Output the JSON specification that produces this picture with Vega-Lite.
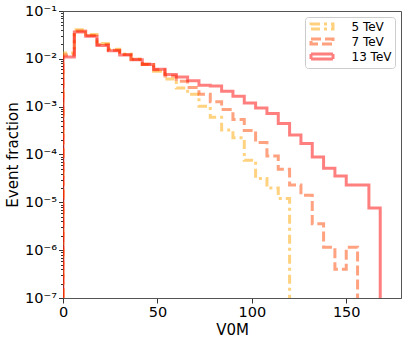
{
  "$schema": "https://vega.github.io/schema/vega-lite/v6.json",
  "width": 338,
  "height": 287,
  "autosize": {"type": "none"},
  "padding": {"left": 63, "top": 11, "right": 6, "bottom": 44},
  "background": "white",
  "config": {
    "font": "DejaVu Sans",
    "view": {"stroke": "#555", "strokeWidth": 1},
    "axis": {"grid": false, "labelFont": "DejaVu Sans", "titleFont": "DejaVu Sans", "labelFontSize": 14.5, "titleFontSize": 15, "titleFontWeight": "normal", "labelColor": "#000", "titleColor": "#000", "tickColor": "#333", "domainColor": "#555", "labelFlush": false, "labelOverlap": false},
    "legend": {
      "orient": "top-right", "offset": 6, "padding": 3, "strokeColor": "#ccc", "cornerRadius": 3, "fillColor": "white",
      "symbolType": "M-2.2,-0.5H2.2V0.5H-2.2Z", "symbolSize": 100, "symbolOffset": 7.5, "symbolStrokeWidth": 3, "symbolFillColor": "transparent", "symbolOpacity": 0.5,
      "labelFont": "DejaVu Sans", "labelFontSize": 12, "labelColor": "#000", "labelOffset": 23, "rowPadding": -3
    }
  },
  "data": {
    "values": [
      {"E": "5 TeV", "i": 0, "x": 0, "frac": 1e-7},
      {"E": "5 TeV", "i": 1, "x": 0, "frac": 0.01318},
      {"E": "5 TeV", "i": 2, "x": 6, "frac": 0.04074},
      {"E": "5 TeV", "i": 3, "x": 12, "frac": 0.03236},
      {"E": "5 TeV", "i": 4, "x": 18, "frac": 0.02089},
      {"E": "5 TeV", "i": 5, "x": 24, "frac": 0.01585},
      {"E": "5 TeV", "i": 6, "x": 30, "frac": 0.01259},
      {"E": "5 TeV", "i": 7, "x": 36, "frac": 0.00977},
      {"E": "5 TeV", "i": 8, "x": 42, "frac": 0.00759},
      {"E": "5 TeV", "i": 9, "x": 48, "frac": 0.0055},
      {"E": "5 TeV", "i": 10, "x": 54, "frac": 0.0038},
      {"E": "5 TeV", "i": 11, "x": 60, "frac": 0.00245},
      {"E": "5 TeV", "i": 12, "x": 66, "frac": 0.00182},
      {"E": "5 TeV", "i": 13, "x": 72, "frac": 0.00102},
      {"E": "5 TeV", "i": 14, "x": 78, "frac": 0.000603},
      {"E": "5 TeV", "i": 15, "x": 84, "frac": 0.000324},
      {"E": "5 TeV", "i": 16, "x": 90, "frac": 0.000224},
      {"E": "5 TeV", "i": 17, "x": 96, "frac": 0.0000759},
      {"E": "5 TeV", "i": 18, "x": 102, "frac": 0.0000316},
      {"E": "5 TeV", "i": 19, "x": 108, "frac": 0.00002},
      {"E": "5 TeV", "i": 20, "x": 114, "frac": 0.000012},
      {"E": "5 TeV", "i": 21, "x": 120, "frac": 0.000012},
      {"E": "5 TeV", "i": 22, "x": 120, "frac": 1e-7},

      {"E": "7 TeV", "i": 0, "x": 0, "frac": 1e-7},
      {"E": "7 TeV", "i": 1, "x": 0, "frac": 0.01202},
      {"E": "7 TeV", "i": 2, "x": 6, "frac": 0.03802},
      {"E": "7 TeV", "i": 3, "x": 12, "frac": 0.0309},
      {"E": "7 TeV", "i": 4, "x": 18, "frac": 0.01995},
      {"E": "7 TeV", "i": 5, "x": 24, "frac": 0.01514},
      {"E": "7 TeV", "i": 6, "x": 30, "frac": 0.0123},
      {"E": "7 TeV", "i": 7, "x": 36, "frac": 0.00977},
      {"E": "7 TeV", "i": 8, "x": 42, "frac": 0.00776},
      {"E": "7 TeV", "i": 9, "x": 48, "frac": 0.00589},
      {"E": "7 TeV", "i": 10, "x": 54, "frac": 0.00437},
      {"E": "7 TeV", "i": 11, "x": 60, "frac": 0.00339},
      {"E": "7 TeV", "i": 12, "x": 66, "frac": 0.00251},
      {"E": "7 TeV", "i": 13, "x": 72, "frac": 0.00182},
      {"E": "7 TeV", "i": 14, "x": 78, "frac": 0.00126},
      {"E": "7 TeV", "i": 15, "x": 84, "frac": 0.000871},
      {"E": "7 TeV", "i": 16, "x": 90, "frac": 0.000537},
      {"E": "7 TeV", "i": 17, "x": 96, "frac": 0.000316},
      {"E": "7 TeV", "i": 18, "x": 102, "frac": 0.000178},
      {"E": "7 TeV", "i": 19, "x": 108, "frac": 0.0000933},
      {"E": "7 TeV", "i": 20, "x": 114, "frac": 0.000049},
      {"E": "7 TeV", "i": 21, "x": 120, "frac": 0.0000229},
      {"E": "7 TeV", "i": 22, "x": 126, "frac": 0.0000141},
      {"E": "7 TeV", "i": 23, "x": 132, "frac": 0.00000355},
      {"E": "7 TeV", "i": 24, "x": 138, "frac": 0.00000115},
      {"E": "7 TeV", "i": 25, "x": 144, "frac": 0.000000398},
      {"E": "7 TeV", "i": 26, "x": 150, "frac": 0.00000115},
      {"E": "7 TeV", "i": 27, "x": 156, "frac": 0.00000115},
      {"E": "7 TeV", "i": 28, "x": 156, "frac": 1e-7},

      {"E": "13 TeV", "i": 0, "x": 0, "frac": 1e-7},
      {"E": "13 TeV", "i": 1, "x": 0, "frac": 0.01096},
      {"E": "13 TeV", "i": 2, "x": 6, "frac": 0.03631},
      {"E": "13 TeV", "i": 3, "x": 12, "frac": 0.02951},
      {"E": "13 TeV", "i": 4, "x": 18, "frac": 0.01905},
      {"E": "13 TeV", "i": 5, "x": 24, "frac": 0.01479},
      {"E": "13 TeV", "i": 6, "x": 30, "frac": 0.01202},
      {"E": "13 TeV", "i": 7, "x": 36, "frac": 0.00955},
      {"E": "13 TeV", "i": 8, "x": 42, "frac": 0.00759},
      {"E": "13 TeV", "i": 9, "x": 48, "frac": 0.00603},
      {"E": "13 TeV", "i": 10, "x": 54, "frac": 0.00468},
      {"E": "13 TeV", "i": 11, "x": 60, "frac": 0.00417},
      {"E": "13 TeV", "i": 12, "x": 66, "frac": 0.00347},
      {"E": "13 TeV", "i": 13, "x": 72, "frac": 0.00282},
      {"E": "13 TeV", "i": 14, "x": 78, "frac": 0.00269},
      {"E": "13 TeV", "i": 15, "x": 84, "frac": 0.00209},
      {"E": "13 TeV", "i": 16, "x": 90, "frac": 0.00166},
      {"E": "13 TeV", "i": 17, "x": 96, "frac": 0.0012},
      {"E": "13 TeV", "i": 18, "x": 102, "frac": 0.000933},
      {"E": "13 TeV", "i": 19, "x": 108, "frac": 0.000724},
      {"E": "13 TeV", "i": 20, "x": 114, "frac": 0.000447},
      {"E": "13 TeV", "i": 21, "x": 120, "frac": 0.000257},
      {"E": "13 TeV", "i": 22, "x": 126, "frac": 0.00017},
      {"E": "13 TeV", "i": 23, "x": 132, "frac": 0.0000891},
      {"E": "13 TeV", "i": 24, "x": 138, "frac": 0.0000513},
      {"E": "13 TeV", "i": 25, "x": 144, "frac": 0.0000355},
      {"E": "13 TeV", "i": 26, "x": 150, "frac": 0.0000229},
      {"E": "13 TeV", "i": 27, "x": 156, "frac": 0.0000229},
      {"E": "13 TeV", "i": 28, "x": 162, "frac": 0.00000759},
      {"E": "13 TeV", "i": 29, "x": 168, "frac": 0.00000759},
      {"E": "13 TeV", "i": 30, "x": 168, "frac": 1e-7}
    ]
  },
  "mark": {"type": "line", "interpolate": "step-after", "strokeWidth": 3, "opacity": 0.5, "strokeCap": "butt", "strokeJoin": "miter", "clip": true},
  "encoding": {
    "x": {
      "field": "x", "type": "quantitative",
      "scale": {"domain": [0, 179], "nice": false, "zero": false},
      "axis": {"values": [0, 50, 100, 150], "title": "V0M", "tickSize": 5, "labelPadding": 2, "titlePadding": 4}
    },
    "y": {
      "field": "frac", "type": "quantitative",
      "scale": {"type": "log", "domain": [1e-7, 0.1], "nice": false},
      "axis": {
        "title": "Event fraction",
        "values": [1e-7, 2e-7, 3e-7, 4e-7, 5e-7, 6e-7, 7e-7, 8e-7, 9e-7, 1e-6, 2e-6, 3e-6, 4e-6, 5e-6, 6e-6, 7e-6, 8e-6, 9e-6, 1e-5, 2e-5, 3e-5, 4e-5, 5e-5, 6e-5, 7e-5, 8e-5, 9e-5, 1e-4, 2e-4, 3e-4, 4e-4, 5e-4, 6e-4, 7e-4, 8e-4, 9e-4, 0.001, 0.002, 0.003, 0.004, 0.005, 0.006, 0.007, 0.008, 0.009, 0.01, 0.02, 0.03, 0.04, 0.05, 0.06, 0.07, 0.08, 0.09, 0.1],
        "labelExpr": "abs(log(datum.value)/LN10 - round(log(datum.value)/LN10)) < 0.001 ? '10⁻' + ['⁰','¹','²','³','⁴','⁵','⁶','⁷'][-round(log(datum.value)/LN10)] : ''",
        "tickSize": {"condition": {"test": "abs(log(datum.value)/LN10 - round(log(datum.value)/LN10)) < 0.001", "value": 4.5}, "value": 2.5},
        "labelPadding": 2,
        "titlePadding": 4
      }
    },
    "color": {
      "field": "E", "type": "nominal",
      "scale": {"domain": ["5 TeV", "7 TeV", "13 TeV"], "range": ["orange", "orangered", "red"]},
      "legend": {"title": null, "orient": "top-right"}
    },
    "strokeDash": {
      "field": "E", "type": "nominal",
      "scale": {"domain": ["5 TeV", "7 TeV", "13 TeV"], "range": [[9, 4, 3, 4], [10, 4], [1, 0]]},
      "legend": {"title": null, "orient": "top-right"}
    },
    "order": {"field": "i", "type": "quantitative"}
  }
}
